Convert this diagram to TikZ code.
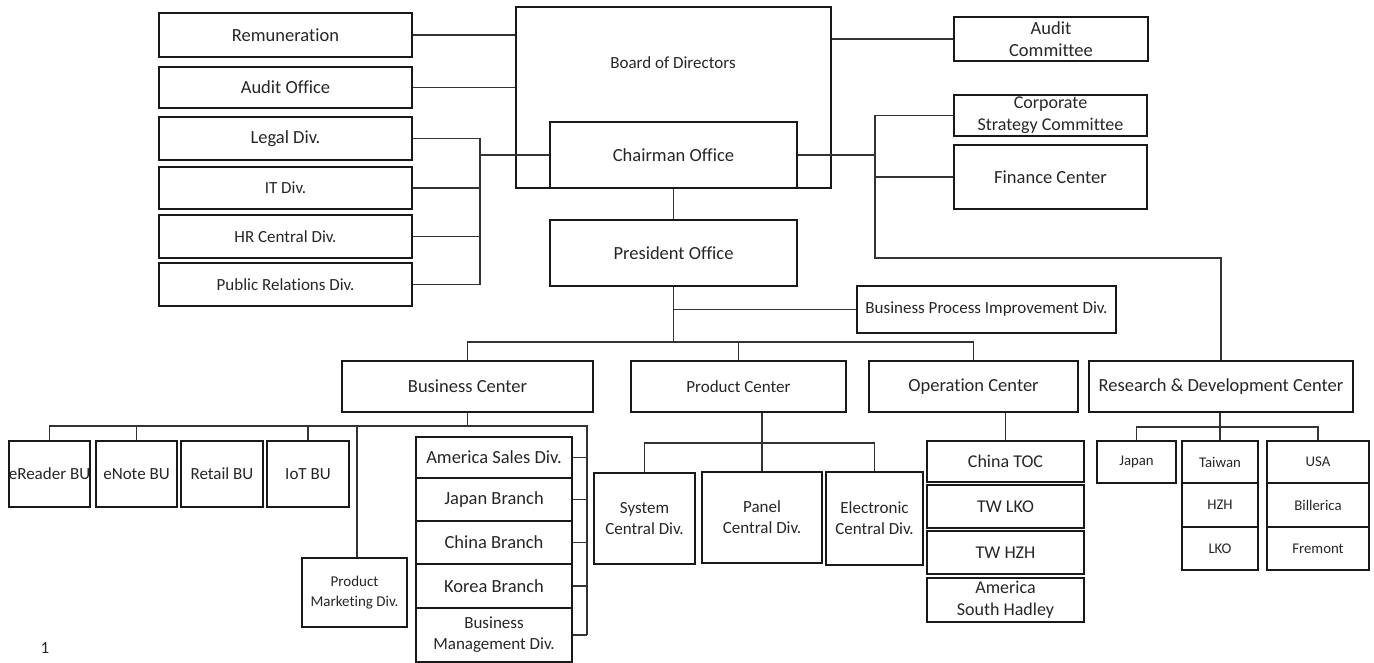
\documentclass[tikz,border=0pt]{standalone}
\usepackage{fontspec}
\setmainfont{Carlito}[Ligatures=NoCommon]
\newcommand{\bx}[7][]{\node[box,#1,minimum width={#5-#3},minimum height={#6-#4}] (#2) at ({(#3+#5)/2},{(#4+#6)/2}) {#7};}
\begin{document}
\begin{tikzpicture}[x=1pt,y=-1pt,
 box/.style={draw=black!90,line width=1.5pt,inner sep=0pt,align=center,text=black!85},
 con/.style={draw=black!80,line width=1.2pt},
 fa/.style={font=\fontsize{18.5}{22}\selectfont},
 fb/.style={font=\fontsize{17}{21}\selectfont},
 fc/.style={font=\fontsize{15}{20}\selectfont},
 fd/.style={font=\fontsize{14.8}{18}\selectfont},
 fe/.style={font=\fontsize{18}{22}\selectfont},
 lbl/.style={inner sep=0pt,text=black!85}]
\useasboundingbox (0,0) rectangle (1374,663);
% top-left column
\bx[fa]{rem}{159}{13}{412}{57}{Remuneration}
\bx[fa]{aoff}{159}{67}{412}{108}{Audit Office}
\bx[fa]{legal}{159}{117}{412}{160}{Legal Div.}
\bx[fb]{itd}{159}{167}{412}{209}{IT Div.}
\bx[fb]{hrd}{159}{215}{412}{258}{HR Central Div.}
\bx[fb]{prd}{159}{263}{412}{306}{Public Relations Div.}
% board
\bx{board}{516}{7}{831}{188}{}
\node[lbl,fb] (boardtxt) at (673,63) {Board of Directors};
\bx[fa]{chair}{550}{122}{797}{188}{Chairman Office}
\bx[fa]{pres}{550}{220}{797}{286}{President Office}
% right column
\bx[fa]{ac}{954}{17}{1148}{61}{Audit\\Committee}
\bx[fe]{csc}{954}{95}{1147}{136}{Corporate\\Strategy Committee}
\bx[fa]{fin}{954}{145}{1147}{209}{Finance Center}
\bx[fb]{bpi}{857}{286}{1116}{333}{Business Process Improvement Div.}
% centers
\bx[fa]{bc}{342}{361}{593}{412}{Business Center}
\bx[fb]{pc}{631}{361}{846}{412}{Product Center}
\bx[fa]{oc}{869}{361}{1078}{412}{Operation Center}
\bx[fa]{rd}{1089}{361}{1353}{412}{Research \& Development Center}
% business units
\bx[fb]{erd}{9}{441}{90}{507}{eReader BU}
\bx[fb]{enote}{96}{441}{177}{507}{eNote BU}
\bx[fb]{retail}{181}{441}{263}{507}{Retail BU}
\bx[fb]{iot}{267}{441}{349}{507}{IoT BU}
\bx[fc]{pm}{302}{558}{407}{627}{Product\\Marketing Div.}
\bx[fa]{asd}{416}{437}{572}{478}{America Sales Div.}
\bx[fa]{jpb}{416}{478}{572}{521}{Japan Branch}
\bx[fa]{cnb}{416}{521}{572}{564}{China Branch}
\bx[fa]{krb}{416}{564}{572}{608}{Korea Branch}
\bx[fb]{bmd}{416}{608}{572}{662}{Business\\Management Div.}
% product children
\bx[fb]{sys}{594}{473}{695}{564}{System\\Central Div.}
\bx[fb]{panel}{702}{472}{822}{563}{Panel\\Central Div.}
\bx[fb]{elec}{826}{472}{923}{565}{Electronic\\Central Div.}
% operation children
\bx[fe]{ctoc}{927}{441}{1084}{482}{China TOC}
\bx[fe]{twlko}{927}{485}{1084}{528}{TW LKO}
\bx[fe]{twhzh}{927}{531}{1084}{574}{TW HZH}
\bx[fe]{ash}{927}{578}{1084}{622}{America\\South Hadley}
% R&D children
\bx[fd]{jp}{1097}{441}{1176}{483}{Japan}
\bx[fd]{tw}{1182}{441}{1258}{483}{Taiwan}
\bx[fd]{hzh}{1182}{483}{1258}{527}{HZH}
\bx[fd]{lko}{1182}{527}{1258}{570}{LKO}
\bx[fd]{usa}{1267}{441}{1369}{483}{USA}
\bx[fd]{bil}{1267}{483}{1369}{527}{Billerica}
\bx[fd]{fre}{1267}{527}{1369}{570}{Fremont}
\node[lbl,fb] (pagenum) at (45,648) {1};
% connectors, left
\coordinate (lb) at (480,155);
\draw[con] (legal.east) -| (lb) |- (prd.east);
\draw[con] (itd.east) -- (itd.east -| lb);
\draw[con] (hrd.east) -- (hrd.east -| lb);
\draw[con] (lb) -- (chair.west);
\draw[con] (rem.east) -- (rem.east -| board.west);
\draw[con] (aoff.east) -- (aoff.east -| board.west);
% right
\draw[con] (ac.west) -- (ac.west -| board.east);
\coordinate (rb) at (875,155);
\coordinate (rbt) at (875,258);
\draw[con] (chair.east) -- (rb);
\draw[con] (csc.west) -| (rbt) -| (rd.north);
\draw[con] (fin.west) -- (fin.west -| rb);
% president
\draw[con] (chair.south) -- (pres.north);
\coordinate (hub) at (pres.south |- 0,342);
\draw[con] (pres.south) -- (hub);
\draw[con] (bpi.west) -- (bpi.west -| hub);
\draw[con] (bc.north) |- (hub) -| (oc.north);
\draw[con] (pc.north) -- (pc.north |- hub);
% business center
\coordinate (bhub) at (bc.south |- 0,426);
\coordinate (sb) at (587,426);
\draw[con] (bc.south) -- (bhub);
\draw[con] (erd.north) |- (bhub);
\draw[con] (enote.north) -- (enote.north |- bhub);
\draw[con] (iot.north) -- (iot.north |- bhub);
\draw[con] ([xshift=2.5pt]pm.north) -- ([xshift=2.5pt]pm.north |- bhub);
\draw[con,line width=2.4pt] (bhub) -- (sb) -- (sb |- cnb.east);
\draw[con] (sb |- cnb.east) -- (sb |- bmd.east);
\foreach \n in {asd,jpb,cnb,krb,bmd} \draw[con] (\n.east) -- (\n.east -| sb);
% product center
\coordinate (phub) at (panel.north |- 0,443);
\draw[con] (panel.north) -- (panel.north |- pc.south);
\draw[con] (sys.north) |- (phub) -| (elec.north);
% operation
\draw[con] (ctoc.north) -- (ctoc.north |- oc.south);
% R&D
\coordinate (rhub) at (tw.north |- 0,427);
\draw[con] (tw.north) -- (tw.north |- rd.south);
\draw[con] (jp.north) |- (rhub) -| (usa.north);
\end{tikzpicture}
\end{document}
